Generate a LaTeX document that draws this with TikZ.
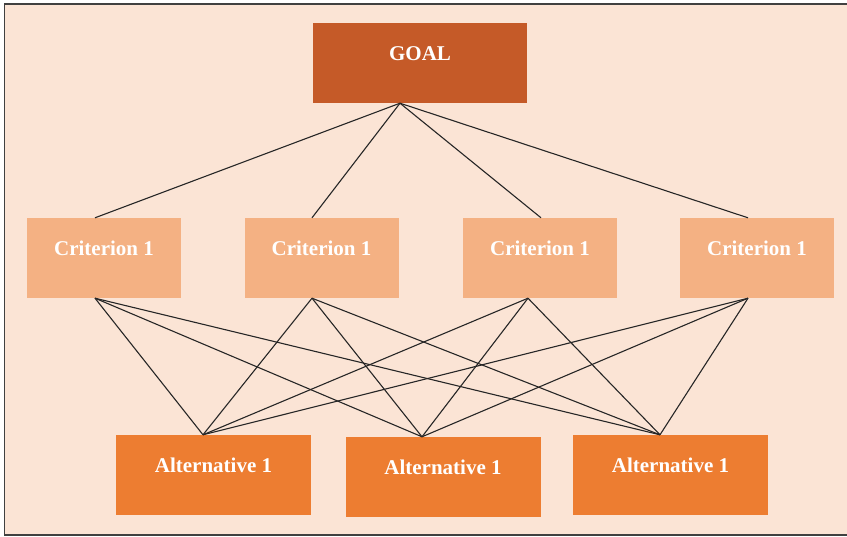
\documentclass[tikz,border=0pt]{standalone}
\usepackage{fontspec}
\setmainfont{Liberation Serif}
\usepackage{tikz}
\usetikzlibrary{positioning,calc}
\definecolor{bgfill}{HTML}{FBE4D5}
\definecolor{goalfill}{HTML}{C55A28}
\definecolor{critfill}{HTML}{F4B183}
\definecolor{altfill}{HTML}{ED7D31}
\tikzset{
	box/.style={rectangle,draw=none,inner sep=0pt,minimum height=80pt,text=white,
		font=\fontsize{21}{25}\selectfont\bfseries,text height=14pt,text depth=18pt},
	goalbox/.style={box,fill=goalfill,minimum width=214pt},
	critbox/.style={box,fill=critfill,minimum width=154pt},
	altbox/.style={box,fill=altfill,minimum width=195pt},
	link/.style={draw=black!85,line width=1.1pt},
}

\begin{document}
\begin{tikzpicture}[x=1pt,y=-1pt]
\useasboundingbox (0,0) rectangle (847,537);
% page and frame
\fill[bgfill] (4.5,4) rectangle (860,535);
\draw[black!75,line width=1.4pt] (860,4) -- (4.5,4) -- (4.5,535) -- (860,535);
% boxes
\node[goalbox] (goal) at (420,63) {GOAL};
\foreach \i/\x in {1/104,2/321.5,3/540,4/757}
	\node[critbox] (c\i) at (\x,258) {Criterion 1};
\foreach \j/\x/\y in {1/213.5/475,2/443/477,3/670.5/475}
	\node[altbox] (a\j) at (\x,\y) {Alternative 1};
% where the lines meet the boxes
\coordinate (g) at ([xshift=-20pt]goal.south);
\foreach \i/\dx in {1/-9,2/-9.5,3/1,4/-9}
	\coordinate (ct\i) at ([xshift=\dx pt]c\i.north);
\foreach \i/\dx in {1/-9,2/-9.5,3/-12,4/-9}
	\coordinate (cb\i) at ([xshift=\dx pt]c\i.south);
\foreach \j/\dx in {1/-10.5,2/-21,3/-10.5}
	\coordinate (at\j) at ([xshift=\dx pt]a\j.north);
% links
\foreach \i in {1,...,4}
	\draw[link] (g) -- (ct\i);
\foreach \i in {1,...,4}
	\foreach \j in {1,2,3}
		\draw[link] (cb\i) -- (at\j);
\end{tikzpicture}
\end{document}
